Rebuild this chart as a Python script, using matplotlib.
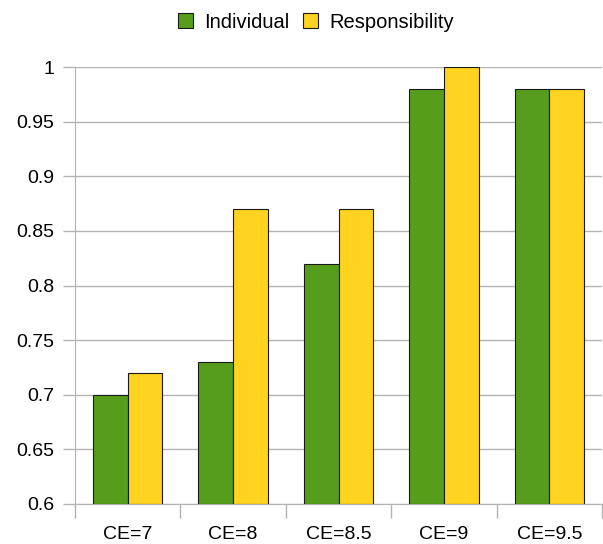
import numpy as np
import matplotlib.pyplot as plt
from matplotlib.patches import Patch

plt.rcParams['font.family'] = ['Liberation Sans', 'DejaVu Sans']

categories = ['CE=7', 'CE=8', 'CE=8.5', 'CE=9', 'CE=9.5']
individual = [0.70, 0.73, 0.82, 0.98, 0.98]
responsibility = [0.72, 0.87, 0.87, 1.00, 0.98]
yticks = [0.6, 0.65, 0.7, 0.75, 0.8, 0.85, 0.9, 0.95, 1.0]
ytick_labels = ['0.6', '0.65', '0.7', '0.75', '0.8', '0.85', '0.9', '0.95', '1']

GREEN = '#579D1C'
YELLOW = '#FFD320'
GRID = '#B3B3B3'

fig = plt.figure(figsize=(6.03, 5.44), dpi=100)
ax = fig.add_axes([75 / 603, 40 / 544, 527 / 603, 437 / 544])

x = np.arange(len(categories))
w = 0.33
ax.bar(x - w / 2, [v - 0.6 for v in individual], w, bottom=0.6, color=GREEN,
       edgecolor='#1a1a1a', linewidth=0.8, zorder=3)
ax.bar(x + w / 2, [v - 0.6 for v in responsibility], w, bottom=0.6, color=YELLOW,
       edgecolor='#1a1a1a', linewidth=0.8, zorder=3)

ax.set_xlim(-0.5, len(categories) - 0.5)
ax.set_ylim(0.6, 1.0)
ax.set_yticks(yticks)
ax.set_yticklabels(ytick_labels, fontsize=14)
ax.yaxis.grid(True, color=GRID, linewidth=1, zorder=0)

# category boundaries get the tick marks, labels sit centered
ax.set_xticks(np.arange(len(categories) + 1) - 0.5)
ax.set_xticklabels([])
ax.set_xticks(x, minor=True)
ax.set_xticklabels(categories, minor=True, fontsize=14)
ax.tick_params(axis='x', which='major', length=10, color=GRID, width=1)
ax.tick_params(axis='x', which='minor', length=0, pad=16)
ax.tick_params(axis='y', length=9, color=GRID, width=1, pad=6)

for s in ['top', 'right']:
    ax.spines[s].set_visible(False)
ax.spines['left'].set_color(GRID)
ax.spines['bottom'].set_color(GRID)

handles = [Patch(facecolor=GREEN, edgecolor='#1a1a1a', linewidth=0.8, label='Individual'),
           Patch(facecolor=YELLOW, edgecolor='#1a1a1a', linewidth=0.8, label='Responsibility')]
fig.legend(handles=handles, loc='center', bbox_to_anchor=(0.524, 1 - 22 / 544), ncol=2,
           frameon=False, fontsize=14.5, handlelength=0.75, handleheight=0.75,
           handletextpad=0.55, columnspacing=0.7)

fig.savefig('out.png', dpi=100)
